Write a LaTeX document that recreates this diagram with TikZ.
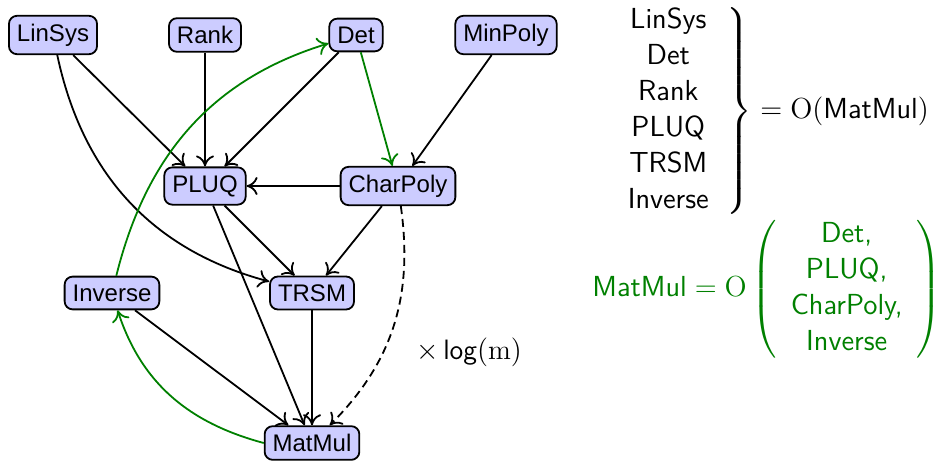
\documentclass[tikz,border=0pt]{standalone}
\usepackage{exscale}
\usepackage{fontspec}
\newfontfamily\nodefont{Liberation Sans}
\usetikzlibrary{arrows.meta}
\definecolor{boxfill}{RGB}{204,204,255}
\definecolor{dkgreen}{RGB}{0,128,0}
\newcommand\ws[1]{\mbox{\sffamily\addfontfeatures{LetterSpace=14}#1}}
\begin{document}
\begin{tikzpicture}[x=0.5pt,y=0.5pt,
  box/.style={draw,fill=boxfill,rounded corners=4pt,line width=0.9pt,
    font=\nodefont\fontsize{12}{14}\selectfont,inner sep=4pt},
  edge/.style={line width=0.9pt,-{Computer Modern Rightarrow[length=5.5pt,width=9pt,line width=0.9pt]}},
  gedge/.style={edge,draw=dkgreen},
  mathtxt/.style={inner sep=0pt,font=\fontsize{14.5}{18}\selectfont}]
\useasboundingbox (0,0) rectangle (938,-461);
\node[box] (LinSys) at (53,-35) {LinSys};
\node[box] (Rank) at (205,-35) {Rank};
\node[box] (Det) at (356,-35) {Det};
\node[box] (MinPoly) at (506,-35) {MinPoly};
\node[box] (PLUQ) at (205,-186) {PLUQ};
\node[box] (CharPoly) at (398,-186) {CharPoly};
\node[box] (Inverse) at (112,-293) {Inverse};
\node[box] (TRSM) at (312,-293) {TRSM};
\node[box] (MatMul) at (312,-443) {MatMul};
\node[mathtxt,font=\fontsize{14}{18}\selectfont] (lbl) at (469,-352) {$\times\,\ws{log}(\mathrm{m})$};

\draw[edge] (LinSys) -- (PLUQ);
\draw[edge] (LinSys) to[out=-78,in=165] (TRSM);
\draw[edge] (Rank) -- (PLUQ);
\draw[edge] (Det) -- (PLUQ);
\draw[gedge] (Det) -- (CharPoly);
\draw[edge] (MinPoly) -- (CharPoly);
\draw[edge] (CharPoly) -- (PLUQ);
\draw[edge] (CharPoly) -- (TRSM);
\draw[edge] (PLUQ) -- (TRSM);
\draw[edge] (PLUQ) -- (MatMul);
\draw[edge] (TRSM) -- (MatMul);
\draw[edge] (Inverse) -- (MatMul);
\draw[gedge] (MatMul.west) to[out=165,in=-72] (Inverse);
\draw[gedge] (Inverse) to[out=76,in=197] (Det);
\draw[edge,dash pattern=on 4pt off 2.5pt] (CharPoly) to[out=-82,in=45] (MatMul);

\node[mathtxt,anchor=west] (eqA) at (607,-111) {\setlength\arraycolsep{9pt}$\left.\begin{array}{c}\ws{LinSys}\\ \ws{Det}\\ \ws{Rank}\\ \ws{PLUQ}\\ \ws{TRSM}\\ \ws{Inverse}\end{array}\right\}=\mathrm{O}(\ws{MatMul})$};
\node[mathtxt,anchor=west,text=dkgreen] (eqB) at (592,-289) {\setlength\arraycolsep{7pt}$\ws{MatMul}=\mathrm{O}\left(\begin{array}{c}\ws{Det,}\\ \ws{PLUQ,}\\ \ws{CharPoly,}\\ \ws{Inverse}\end{array}\right)$};
\end{tikzpicture}
\end{document}
